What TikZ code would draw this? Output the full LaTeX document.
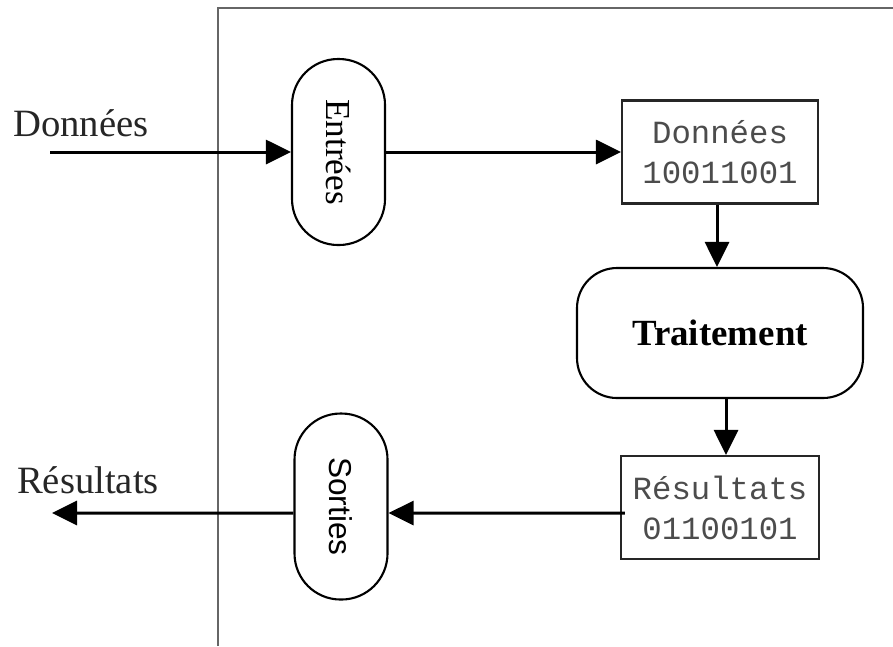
\documentclass[tikz,border=0pt]{standalone}
\usepackage{fontspec}
\setmainfont{Liberation Serif}
\setsansfont{Liberation Sans}
\setmonofont{Liberation Mono}
\usepackage{tikz}
\usetikzlibrary{arrows.meta}
\usetikzlibrary{positioning}
\tikzstyle{frame}=[black!60,line width=0.6pt]
\tikzstyle{flow}=[-{Triangle[length=2.5mm,width=2.4mm]},line width=0.85pt]
\tikzstyle{port}=[draw,rotate=-90,rounded corners=4.6mm,minimum width=1.86cm,
                  minimum height=0.93cm,inner sep=0pt,line width=0.6pt]
\tikzstyle{mem}=[draw=black!85,minimum width=1.96cm,minimum height=1.03cm,align=center,
                 line width=0.6pt,text=black!70,
                 font=\ttfamily\fontsize{9.2}{11.4}\selectfont]
\tikzstyle{proc}=[draw,rounded corners=4mm,minimum width=2.86cm,minimum height=1.3cm,
                  line width=0.6pt,font=\bfseries\fontsize{10.5}{13}\selectfont]
\tikzstyle{extlabel}=[text=black!85,font=\fontsize{11}{13}\selectfont]
\begin{document}
\begin{tikzpicture}
\useasboundingbox (0,0) rectangle (8.93,-6.46);
\draw[frame] (2.18,-6.46) -- (2.18,-0.08) -- (8.93,-0.08);

\node[port,font=\fontsize{10}{12}\selectfont] (entrees) at (3.385,-1.52) {Entrées};
\node[mem] (donnees) at (7.20,-1.52) {Données\\10011001};
\node[proc] (traitement) at (7.20,-3.33) {Traitement};
\node[mem] (resultats) at (7.20,-5.075) {Résultats\\01100101};
\node[port,font=\sffamily\fontsize{9}{11}\selectfont] (sorties) at (3.41,-5.065) {Sorties};

\node[extlabel] (lblin) at (0.81,-1.23) {Données};
\node[extlabel] (lblout) at (0.88,-4.80) {Résultats};
\coordinate (in) at (0.50,-1.52);
\coordinate (out) at (0.52,-5.13);

\draw[flow] (in) -- (entrees);
\draw[flow] (entrees) -- (donnees);
\draw[flow] ([xshift=-0.3mm]donnees.south) -- ([xshift=-0.3mm]traitement.north);
\draw[flow] ([xshift=0.6mm]traitement.south) -- ([xshift=0.6mm]resultats.north);
\draw[flow] ([xshift=0.5mm,yshift=-0.55mm]resultats.west) -- ([yshift=-0.65mm]sorties.north);
\draw[flow] ([yshift=-0.65mm]sorties.south) -- (out);
\end{tikzpicture}
\end{document}
